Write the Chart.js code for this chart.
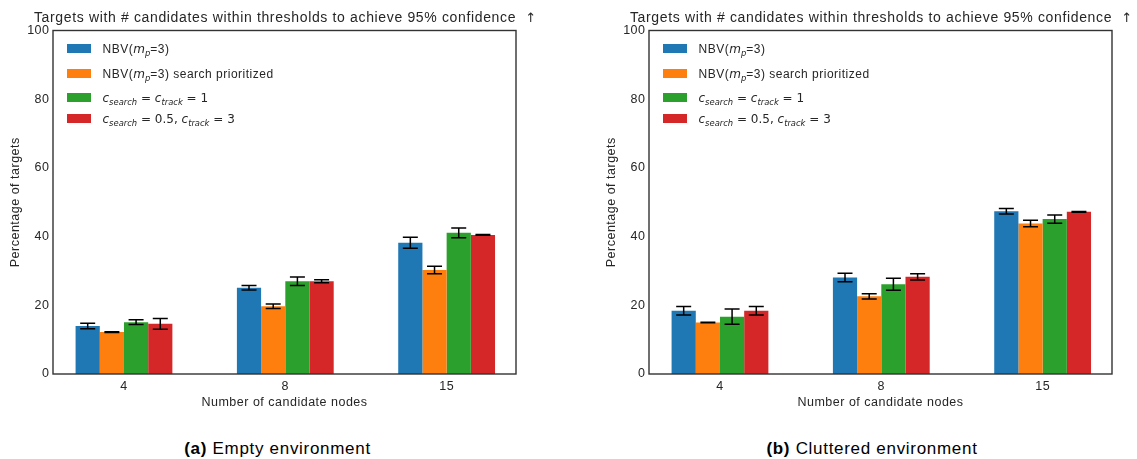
<!DOCTYPE html>
<html>
<head>
<meta charset="utf-8">
<script src="https://cdn.jsdelivr.net/npm/chart.js@4/dist/chart.umd.min.js"></script>
<style>
  html, body { margin: 0; padding: 0; background: #fff; }
  body { width: 1137px; height: 459px; position: relative; overflow: hidden;
         font-family: "Liberation Sans", Arial, sans-serif; color: #262626; }
  .panel { position: absolute; top: 0; width: 541px; height: 459px; }
  .panel canvas { position: absolute; left: 0; top: 0; }
  .title { position: absolute; top: 9px; left: 285px; transform: translateX(-50%);
           font-size: 14px; line-height: 16px; letter-spacing: 0.65px; white-space: nowrap; }
  .title .arrow { font-family: "DejaVu Sans", sans-serif; font-size: 13px; letter-spacing: 0; }
  .legend { position: absolute; left: 66.5px; top: 0; }
  .legend .row { position: absolute; left: 0; height: 14px; display: flex; align-items: center;
                 white-space: nowrap; font-size: 12px; letter-spacing: 0.5px; }
  .legend .swatch { width: 24px; height: 9px; margin-right: 12px; flex: none; }
  .legend i, .legend .m { font-family: "DejaVu Sans", sans-serif; letter-spacing: 0; }
  .legend .m { font-style: normal; }
  .legend sub { font-size: 0.7em; vertical-align: -0.3em; line-height: 0; }
  .caption { position: absolute; top: 439px; transform: translateX(-50%); font-size: 17px;
             line-height: 20px; letter-spacing: 0.7px; white-space: nowrap; color: #000; }
</style>
</head>
<body>
<div class="panel" id="panelA" style="left:0px">
  <canvas id="chartA" width="530" height="420"></canvas>
  <div class="title">Targets with # candidates within thresholds to achieve 95% confidence&nbsp;&nbsp;<span class="arrow">↑</span></div>
  <div class="legend"></div>
  <div class="caption" style="left:277.5px"><b>(a)</b> Empty environment</div>
</div>
<div class="panel" id="panelB" style="left:596px">
  <canvas id="chartB" width="530" height="420"></canvas>
  <div class="title">Targets with # candidates within thresholds to achieve 95% confidence&nbsp;&nbsp;<span class="arrow">↑</span></div>
  <div class="legend"></div>
  <div class="caption" style="left:276px"><b>(b)</b> Cluttered environment</div>
</div>

<script>
// ---- data -------------------------------------------------------------
const categories = ['4', '8', '15'];           // number of candidate nodes
const yTickValues = [0, 20, 40, 60, 80, 100];

const seriesNames = [
  'NBV(m_p=3)',
  'NBV(m_p=3) search prioritized',
  'c_search = c_track = 1',
  'c_search = 0.5, c_track = 3'
];
// same names with sub/italic markup for the legend
const seriesLegendHtml = [
  'NBV(<i>m</i><sub><i>p</i></sub>=3)',
  'NBV(<i>m</i><sub><i>p</i></sub>=3) search prioritized',
  '<i>c</i><sub><i>search</i></sub><span class="m"> = </span><i>c</i><sub><i>track</i></sub><span class="m"> = 1</span>',
  '<i>c</i><sub><i>search</i></sub><span class="m"> = 0.5, </span><i>c</i><sub><i>track</i></sub><span class="m"> = 3</span>'
];
const seriesColors = ['#1f77b4', '#ff7f0e', '#2ca02c', '#d62728'];

// (a) empty environment: percentage of targets and error half-widths
const emptyNbv          = [14.0, 25.1, 38.2];
const emptyNbvErr       = [0.8, 0.65, 1.6];
const emptySearchPrio   = [12.2, 19.7, 30.3];
const emptySearchPrioErr= [0.1, 0.65, 1.1];
const emptyEqualCost    = [15.1, 27.0, 41.1];
const emptyEqualCostErr = [0.7, 1.25, 1.4];
const emptyTrackCost    = [14.6, 27.0, 40.5];
const emptyTrackCostErr = [1.55, 0.45, 0.1];

// (b) cluttered environment
const clutNbv           = [18.4, 28.1, 47.4];
const clutNbvErr        = [1.25, 1.25, 0.8];
const clutSearchPrio    = [15.0, 22.6, 43.8];
const clutSearchPrioErr = [0.1, 0.75, 0.95];
const clutEqualCost     = [16.7, 26.1, 45.1];
const clutEqualCostErr  = [2.2, 1.75, 1.2];
const clutTrackCost     = [18.4, 28.3, 47.2];
const clutTrackCostErr  = [1.25, 0.9, 0.1];

// ---- styling ----------------------------------------------------------
const FONT = "'Liberation Sans', Arial, sans-serif";
const TEXT = '#262626';

// letter spacing for all canvas text (set before layout so measuring agrees)
const spacingPlugin = {
  id: 'spacing',
  beforeLayout(chart) { chart.ctx.letterSpacing = '0.5px'; },
  beforeDraw(chart) { chart.ctx.letterSpacing = '0.5px'; }
};

// symmetric error bars with caps, placed on each bar through the y scale
const errorBarPlugin = {
  id: 'errorBars',
  afterDatasetsDraw(chart) {
    const { ctx } = chart;
    const ys = chart.scales.y;
    ctx.save();
    ctx.strokeStyle = '#000';
    ctx.lineWidth = 1.5;
    chart.data.datasets.forEach((ds, i) => {
      const meta = chart.getDatasetMeta(i);
      meta.data.forEach((bar, j) => {
        const v = ds.data[j].y, e = ds.errors[j];
        const top = ys.getPixelForValue(v + e);
        const bot = ys.getPixelForValue(v - e);
        const half = bar.width * 0.31;
        ctx.beginPath();
        ctx.moveTo(bar.x, top); ctx.lineTo(bar.x, bot);
        ctx.moveTo(bar.x - half, top); ctx.lineTo(bar.x + half, top);
        ctx.moveTo(bar.x - half, bot); ctx.lineTo(bar.x + half, bot);
        ctx.stroke();
      });
    });
    ctx.restore();
  }
};

// box around the plotting area
const framePlugin = {
  id: 'frame',
  afterDraw(chart) {
    const { ctx, chartArea: a } = chart;
    ctx.save();
    ctx.strokeStyle = '#333';
    ctx.lineWidth = 1.4;
    ctx.strokeRect(a.left, a.top, a.right - a.left, a.bottom - a.top);
    ctx.restore();
  }
};

function makeChart(canvasId, values, errors) {
  const datasets = values.map((vals, i) => ({
    label: seriesNames[i],
    data: vals.map((v, j) => ({ x: j, y: v })),
    errors: errors[i],
    backgroundColor: seriesColors[i],
    borderWidth: 0,
    categoryPercentage: 0.6,
    barPercentage: 1.0
  }));

  return new Chart(document.getElementById(canvasId), {
    type: 'bar',
    data: { datasets },
    options: {
      responsive: false,
      animation: false,
      devicePixelRatio: 1,
      layout: { padding: { top: 30.5, right: 14, bottom: 0, left: 0 } },
      plugins: {
        legend: { display: false },
        tooltip: { enabled: false },
        title: { display: false }
      },
      scales: {
        x: {
          type: 'linear',
          offset: false,
          min: -0.44,
          max: 2.43,
          grid: { display: false, drawTicks: false, offset: false },
          border: { display: false },
          afterBuildTicks: (s) => { s.ticks = categories.map((_, i) => ({ value: i })); },
          afterFit: (s) => { s.height = 46; },
          ticks: {
            autoSkip: false, maxRotation: 0, padding: 5.5,
            font: { family: FONT, size: 12.5 }, color: TEXT,
            callback: (v) => categories[v]
          },
          title: {
            display: true, text: 'Number of candidate nodes',
            font: { family: FONT, size: 12.5 }, color: TEXT,
            padding: { top: 0, bottom: 9.5 }
          }
        },
        y: {
          min: 0,
          max: 100,
          grid: { display: false, drawTicks: false },
          border: { display: false },
          afterBuildTicks: (s) => { s.ticks = yTickValues.map((v) => ({ value: v })); },
          afterFit: (s) => { s.width = 53; },
          ticks: { padding: 3.5, font: { family: FONT, size: 12.5 }, color: TEXT },
          title: {
            display: true, text: 'Percentage of targets',
            font: { family: FONT, size: 12.5 }, color: TEXT,
            padding: { top: 8, bottom: 0 }
          }
        }
      }
    },
    plugins: [spacingPlugin, errorBarPlugin, framePlugin]
  });
}

// legend rows built from the series names and colours
const legendRowCenters = [48.8, 73.7, 97.5, 118.7];
function buildLegend(panelId) {
  const box = document.querySelector('#' + panelId + ' .legend');
  seriesLegendHtml.forEach((html, i) => {
    const row = document.createElement('div');
    row.className = 'row';
    row.style.top = (legendRowCenters[i] - 7) + 'px';
    row.innerHTML = '<span class="swatch" style="background:' + seriesColors[i] + '"></span><span>' + html + '</span>';
    box.appendChild(row);
  });
}

makeChart('chartA',
  [emptyNbv, emptySearchPrio, emptyEqualCost, emptyTrackCost],
  [emptyNbvErr, emptySearchPrioErr, emptyEqualCostErr, emptyTrackCostErr]);
makeChart('chartB',
  [clutNbv, clutSearchPrio, clutEqualCost, clutTrackCost],
  [clutNbvErr, clutSearchPrioErr, clutEqualCostErr, clutTrackCostErr]);
buildLegend('panelA');
buildLegend('panelB');
</script>
</body>
</html>
